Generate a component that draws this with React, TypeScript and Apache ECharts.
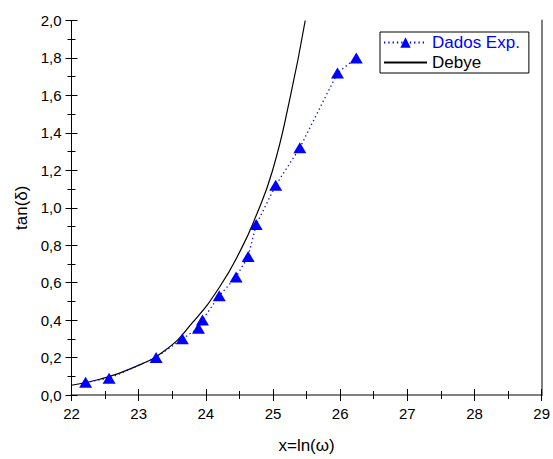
import React, { useEffect, useRef } from "react";
import * as echarts from "echarts";

const expX = [22.21, 22.56, 23.26, 23.65, 23.89, 23.95, 24.2, 24.45, 24.63, 24.75, 25.04, 25.4, 25.96, 26.24];
const expY = [0.068, 0.089, 0.2, 0.3, 0.357, 0.4, 0.53, 0.63, 0.74, 0.91, 1.12, 1.32, 1.72, 1.8];

const debyeX = [22.0, 22.42, 22.91, 23.4, 23.81, 24.2, 24.52, 24.74, 24.99, 25.25, 25.48];
const debyeY = [0.052, 0.084, 0.145, 0.24, 0.39, 0.574, 0.775, 0.95, 1.195, 1.58, 2.0];

const FONT = "'Liberation Sans', Arial, sans-serif";

export default function App() {
  const ref = useRef<HTMLDivElement>(null);
  useEffect(() => {
    if (!ref.current) return;
    const chart = echarts.init(ref.current, undefined, { renderer: "svg" });
    const fmt = (v: number) => v.toFixed(1).replace(".", ",");
    const common = { min: 0, max: 2, interval: 0.2 };
    chart.setOption({
      animation: false,
      backgroundColor: "#fff",
      textStyle: { fontFamily: FONT },
      grid: { left: 71.5, right: 9.5, top: 20.5, bottom: 57, containLabel: false },
      legend: {
        orient: "vertical",
        left: 380,
        top: 32,
        backgroundColor: "#fff",
        borderColor: "#000",
        borderWidth: 1,
        borderRadius: 0,
        padding: [2, 9, 2, 3],
        itemGap: 3,
        itemWidth: 43,
        itemHeight: 13,
        textStyle: { fontFamily: FONT, fontSize: 17, color: "#000" },
        data: [
          { name: "Dados Exp.", textStyle: { color: "#0000ff" } },
          { name: "Debye", textStyle: { color: "#000" }, itemStyle: { opacity: 0 } },
        ],
      },
      xAxis: [
        {
          type: "value",
          position: "bottom",
          min: 22,
          max: 29,
          interval: 1,
          name: "x=ln(ω)",
          nameLocation: "middle",
          nameGap: 42,
          nameTextStyle: { fontFamily: FONT, fontSize: 17, color: "#000" },
          axisLine: { lineStyle: { color: "#000", width: 1 } },
          axisTick: { show: true, inside: false, length: 6, lineStyle: { color: "#000" } },
          minorTick: { show: true, splitNumber: 2, length: 4, lineStyle: { color: "#000" } },
          axisLabel: { color: "#000", fontSize: 15, fontFamily: FONT, margin: 11 },
          splitLine: { show: false },
        },
        {
          type: "value",
          position: "bottom",
          min: 22,
          max: 29,
          interval: 1,
          axisLine: { show: false },
          axisTick: { show: true, inside: true, length: 6, lineStyle: { color: "#000" } },
          minorTick: { show: true, splitNumber: 2, length: 4, lineStyle: { color: "#000" } },
          axisLabel: { show: false },
          splitLine: { show: false },
        },
        {
          type: "value",
          position: "top",
          min: 22,
          max: 29,
          axisLine: { lineStyle: { color: "#808080", width: 2 } },
          axisTick: { show: false },
          axisLabel: { show: false },
          splitLine: { show: false },
        },
      ],
      yAxis: [
        {
          type: "value",
          position: "left",
          ...common,
          name: "tan(δ)",
          nameLocation: "middle",
          nameGap: 42,
          nameTextStyle: { fontFamily: FONT, fontSize: 17, color: "#000" },
          axisLine: { lineStyle: { color: "#000", width: 1 } },
          axisTick: { show: true, inside: false, length: 6, lineStyle: { color: "#000" } },
          minorTick: { show: true, splitNumber: 2, length: 4, lineStyle: { color: "#000" } },
          axisLabel: { color: "#000", fontSize: 15, fontFamily: FONT, margin: 10, formatter: fmt },
          splitLine: { show: false },
        },
        {
          type: "value",
          position: "left",
          ...common,
          axisLine: { show: false },
          axisTick: { show: true, inside: true, length: 6, lineStyle: { color: "#000" } },
          minorTick: { show: true, splitNumber: 2, length: 4, lineStyle: { color: "#000" } },
          axisLabel: { show: false },
          splitLine: { show: false },
        },
        {
          type: "value",
          position: "right",
          ...common,
          axisLine: { lineStyle: { color: "#808080", width: 2 } },
          axisTick: { show: false },
          axisLabel: { show: false },
          splitLine: { show: false },
        },
      ],
      series: [
        {
          name: "Debye",
          type: "line",
          xAxisIndex: 0,
          yAxisIndex: 0,
          data: debyeX.map((x, i) => [x, debyeY[i]]),
          smooth: true,
          symbol: "none",
          clip: true,
          lineStyle: { color: "#000", width: 1.2 },
          itemStyle: { color: "#000" },
          z: 2,
        },
        {
          name: "Dados Exp.",
          type: "line",
          xAxisIndex: 0,
          yAxisIndex: 0,
          data: expX.map((x, i) => [x, expY[i]]),
          symbol: "triangle",
          symbolSize: [13, 11],
          lineStyle: { color: "#0000ff", width: 1.3, type: [1.3, 3] },
          itemStyle: { color: "#0000ff" },
          z: 3,
        },
      ],
    });
    return () => chart.dispose();
  }, []);
  return (
    <div
      ref={ref}
      style={{ position: "absolute", left: 0, top: 0, width: 553, height: 459 }}
    />
  );
}
